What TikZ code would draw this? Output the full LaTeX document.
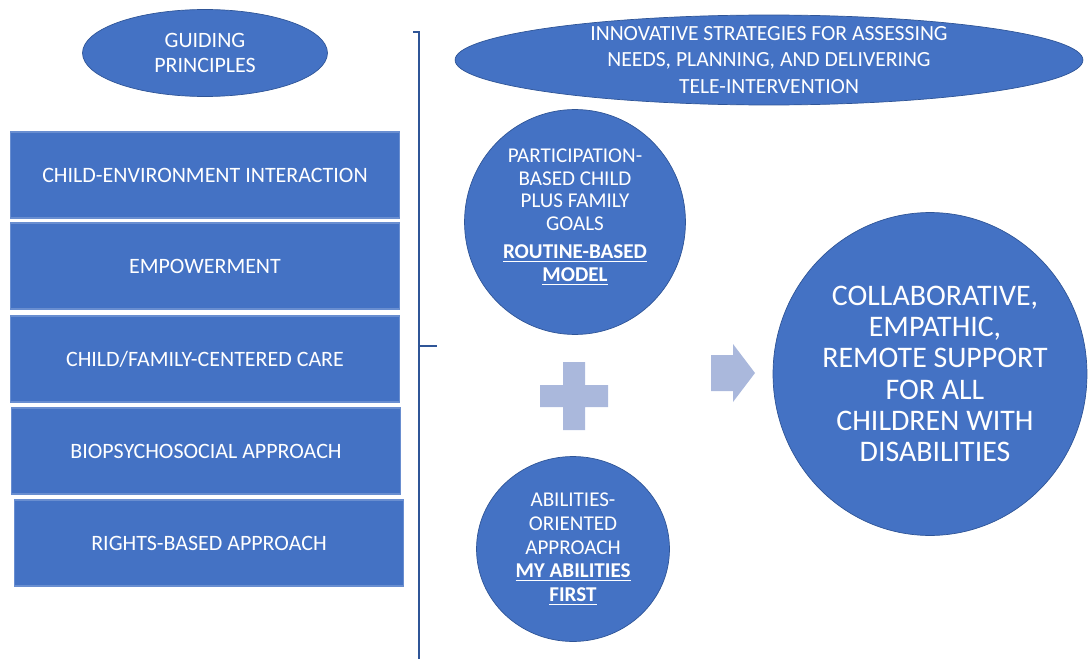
\documentclass[tikz,border=0pt]{standalone}
\usepackage{fontspec}
\setmainfont{Carlito}
\usetikzlibrary{shapes.geometric}
\definecolor{boxblue}{RGB}{68,114,196}
\definecolor{edgeblue}{RGB}{47,85,151}
\definecolor{paleblue}{RGB}{170,184,220}

\begin{document}
\begin{tikzpicture}[x=0.02cm, y=-0.02cm,
        blob/.style={ellipse, fill=boxblue, draw=edgeblue, line width=0.4pt, inner sep=0pt},
        blobtext/.style={text=white, align=center, inner sep=0pt, font=\fontsize{12}{13.2}\selectfont},
        principle/.style={rectangle, fill=boxblue, draw=boxblue!80!white, line width=0.6pt, text=white,
                minimum width=7.8cm, minimum height=1.72cm, font=\fontsize{12.5}{15}\selectfont}]
        \useasboundingbox (0,0) rectangle (1089,659);

        \node[blob, minimum width=4.9cm, minimum height=1.74cm] (guide) at (205,53) {};
        \node[blobtext, font=\fontsize{12.5}{14.7}\selectfont] at (guide) {GUIDING\\PRINCIPLES};

        \foreach \i/\xc/\yc/\txt in {1/205/175/{CHILD-ENVIRONMENT INTERACTION}, 2/205/266/{EMPOWERMENT},
                3/205/359/{CHILD/FAMILY-CENTERED CARE}, 4/206/451/{BIOPSYCHOSOCIAL APPROACH},
                5/209/543/{RIGHTS-BASED APPROACH}}
            \node[principle] (p\i) at (\xc,\yc) {\txt};

        \coordinate (btop) at (419,32);
        \coordinate (bmid) at (419,346);
        \coordinate (bbot) at (419,659);
        \draw[edgeblue, line width=1pt] (413,32) -- (btop) -- (bbot);
        \draw[edgeblue, line width=1pt] (bmid) -- ++(18,0);

        \node[blob, minimum width=12.56cm, minimum height=1.8cm] (strat) at (769,60) {};
        \node[blobtext, font=\fontsize{12.3}{15.3}\selectfont] at (strat)
                {INNOVATIVE STRATEGIES FOR ASSESSING\\NEEDS, PLANNING, AND DELIVERING\\TELE-INTERVENTION};

        \node[blob, minimum width=4.42cm, minimum height=4.5cm] (goals) at (575,222) {};
        \node[blobtext, font=\fontsize{12}{13}\selectfont] at ([yshift=0.1cm]goals.center)
                {PARTICIPATION-\\BASED CHILD\\PLUS FAMILY\\GOALS\\[3pt]
                \underline{\textbf{ROUTINE-BASED}}\\\underline{\textbf{MODEL}}};

        \fill[paleblue] (563,362) -- (585,362) -- (585,385) -- (608,385) -- (608,407) -- (585,407)
                -- (585,430) -- (563,430) -- (563,407) -- (540,407) -- (540,385) -- (563,385) -- cycle;

        \node[blob, minimum width=3.86cm, minimum height=3.7cm] (abil) at (573,549) {};
        \node[blobtext, font=\fontsize{12}{13.6}\selectfont] at (abil)
                {ABILITIES-\\ORIENTED\\APPROACH\\\underline{\textbf{MY ABILITIES}}\\\underline{\textbf{FIRST}}};

        \fill[paleblue] (711,355) -- (733,355) -- (733,344) -- (755,373) -- (733,402) -- (733,391)
                -- (711,391) -- cycle;

        \node[blob, minimum width=6.28cm, minimum height=6.46cm] (support) at (930,374) {};
        \node[blobtext, font=\fontsize{17}{17.8}\selectfont] at ([xshift=0.1cm]support.center)
                {COLLABORATIVE,\\EMPATHIC,\\REMOTE SUPPORT\\FOR ALL\\CHILDREN WITH\\DISABILITIES};
\end{tikzpicture}
\end{document}
